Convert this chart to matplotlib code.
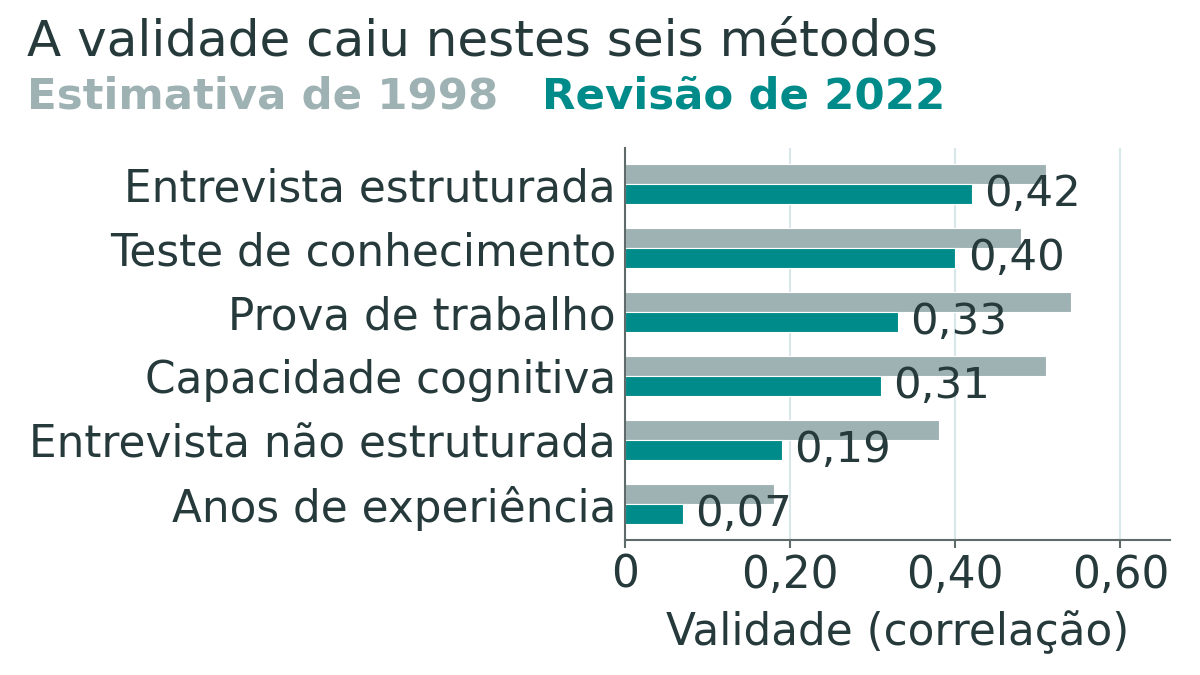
import matplotlib
matplotlib.use("Agg")
import matplotlib.pyplot as plt
import numpy as np

categories = ["Entrevista estruturada", "Teste de conhecimento", "Prova de trabalho",
              "Capacidade cognitiva", "Entrevista não estruturada", "Anos de experiência"]
val_1998 = [0.51, 0.48, 0.54, 0.51, 0.38, 0.18]
val_2022 = [0.42, 0.40, 0.33, 0.31, 0.19, 0.07]
xticks = [0, 0.20, 0.40, 0.60]
xticklabels = ["0", "0,20", "0,40", "0,60"]

GRAY = "#9eb1b3"
TEAL = "#008b8b"
TEXT = "#263a3c"
SPINE = "#5f6b6b"
GRID = "#d7e7ea"

plt.rcParams['font.family'] = ['DejaVu Sans']

fig = plt.figure(figsize=(12, 6.75), dpi=100)
ax = fig.add_axes([625/1200, 1-540/675, (1170-625)/1200, (540-148)/675])

y = np.arange(len(categories))[::-1].astype(float)
h = 0.31
ax.barh(y + h/2, val_1998, height=h, color=GRAY, edgecolor="white", linewidth=0.8, zorder=2)
ax.barh(y - h/2, val_2022, height=h, color=TEAL, edgecolor="white", linewidth=0.8, zorder=2)

for yi, v in zip(y, val_2022):
    ax.text(v + 0.015, yi - h/2, f"{v:.2f}".replace(".", ","), va="center", ha="left",
            fontsize=31.3, color=TEXT, zorder=3)

ax.set_xlim(0, 0.66)
ax.set_ylim(-0.5625, 5.5625)
ax.set_yticks(y)
ax.set_yticklabels(categories, fontsize=31.5, color=TEXT)
ax.tick_params(axis="y", length=0, pad=6.5)
ax.set_xticks(xticks)
ax.set_xticklabels(xticklabels, fontsize=31.5, color=TEXT)
ax.tick_params(axis="x", length=6, width=1.5, color=SPINE, pad=4)
ax.set_xlabel("Validade (correlação)", fontsize=31.5, color=TEXT, labelpad=10)

for s in ["top", "right"]:
    ax.spines[s].set_visible(False)
for s in ["left", "bottom"]:
    ax.spines[s].set_color(SPINE)
    ax.spines[s].set_linewidth(1.5)

ax.grid(axis="x", color=GRID, linewidth=1.5, zorder=0)
ax.set_axisbelow(True)

fig.text(27/1200, 1-56/675, "A validade caiu nestes seis métodos", fontsize=36,
         color=TEXT, va="baseline", ha="left")
fig.text(27/1200, 1-108.5/675, "Estimativa de 1998", fontsize=31.3, fontweight="bold",
         color=GRAY, va="baseline", ha="left")
fig.text(542/1200, 1-108.5/675, "Revisão de 2022", fontsize=31.3, fontweight="bold",
         color=TEAL, va="baseline", ha="left")

fig.savefig("out.png", dpi=100, facecolor="white")
